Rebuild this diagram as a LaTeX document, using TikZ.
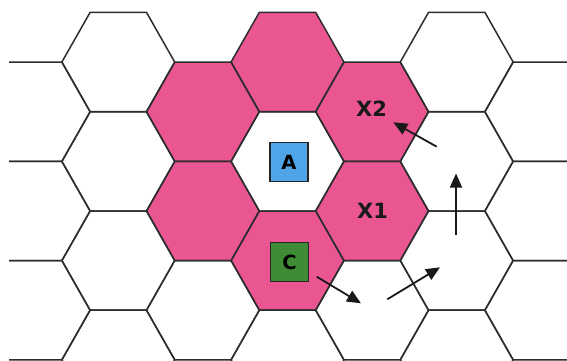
\documentclass[tikz,border=0pt]{standalone}
\usepackage{fontspec}
\setmainfont{DejaVu Sans}
\usepackage{tikz}
\usetikzlibrary{arrows.meta}

\definecolor{cellpink}{RGB}{234,86,146}
\definecolor{boxblue}{RGB}{80,164,232}
\definecolor{boxgreen}{RGB}{64,140,54}
\definecolor{gridgray}{RGB}{45,45,45}

\begin{document}
\begin{tikzpicture}[x=1pt, y=-1pt,
        hexline/.style={draw=gridgray, line width=1.5pt, line join=miter},
        pinkcell/.style={fill=cellpink},
        cellbox/.style={draw=black!85, line width=1.4pt, minimum width=38pt, minimum height=39pt, inner sep=0pt, font=\fontsize{19.5}{22}\selectfont\bfseries},
        celllabel/.style={inner sep=0pt, font=\fontsize{21}{24}\selectfont\bfseries, text=black!90},
        move/.style={line width=1.8pt, black!90, -{Triangle[length=14pt,width=12pt]}}]
        \useasboundingbox (0,0) rectangle (567,360);
        \clip (9,0) rectangle (567,360);
        \foreach \cx/\cy in {202.9/111.8, 202.9/211, 287.5/62, 287.5/260.6, 372.1/111.8, 372.1/211}
            \fill[pinkcell] (\cx,\cy) ++(56.4,0) -- ++(-28.2,-49.6) -- ++(-56.4,0) -- ++(-28.2,49.6) -- ++(28.2,49.6) -- ++(56.4,0) -- cycle;
        \foreach \k in {-2,0,2}
            \foreach \cy in {62,161.4,260.6,359.8}
                \draw[hexline] (287.5+84.6*\k,\cy) ++(56.4,0) -- ++(-28.2,-49.6) -- ++(-56.4,0) -- ++(-28.2,49.6) -- ++(28.2,49.6) -- ++(56.4,0) -- cycle;
        \foreach \k in {-3,-1,1,3}
            \foreach \cy in {111.8,211,310.2}
                \draw[hexline] (287.5+84.6*\k,\cy) ++(56.4,0) -- ++(-28.2,-49.6) -- ++(-56.4,0) -- ++(-28.2,49.6) -- ++(28.2,49.6) -- ++(56.4,0) -- cycle;
        \node[cellbox, fill=boxblue] (A) at (289,162) {A};
        \node[cellbox, fill=boxgreen] (C) at (289.5,262) {C};
        \node[celllabel] (X2) at (371.5,109) {X2};
        \node[celllabel] (X1) at (372.5,210.5) {X1};
        \coordinate (c1) at (316.7,276.7);
        \coordinate (c2) at (361,303.3);
        \coordinate (m1) at (387.3,299.3);
        \coordinate (m2) at (440,267.3);
        \coordinate (u1) at (456,234.5);
        \coordinate (u2) at (456,173.5);
        \coordinate (r1) at (436.7,146.7);
        \coordinate (r2) at (393.3,122.3);
        \draw[move] (c1) -- (c2);
        \draw[move] (m1) -- (m2);
        \draw[move] (u1) -- (u2);
        \draw[move] (r1) -- (r2);
    \end{tikzpicture}
\end{document}
